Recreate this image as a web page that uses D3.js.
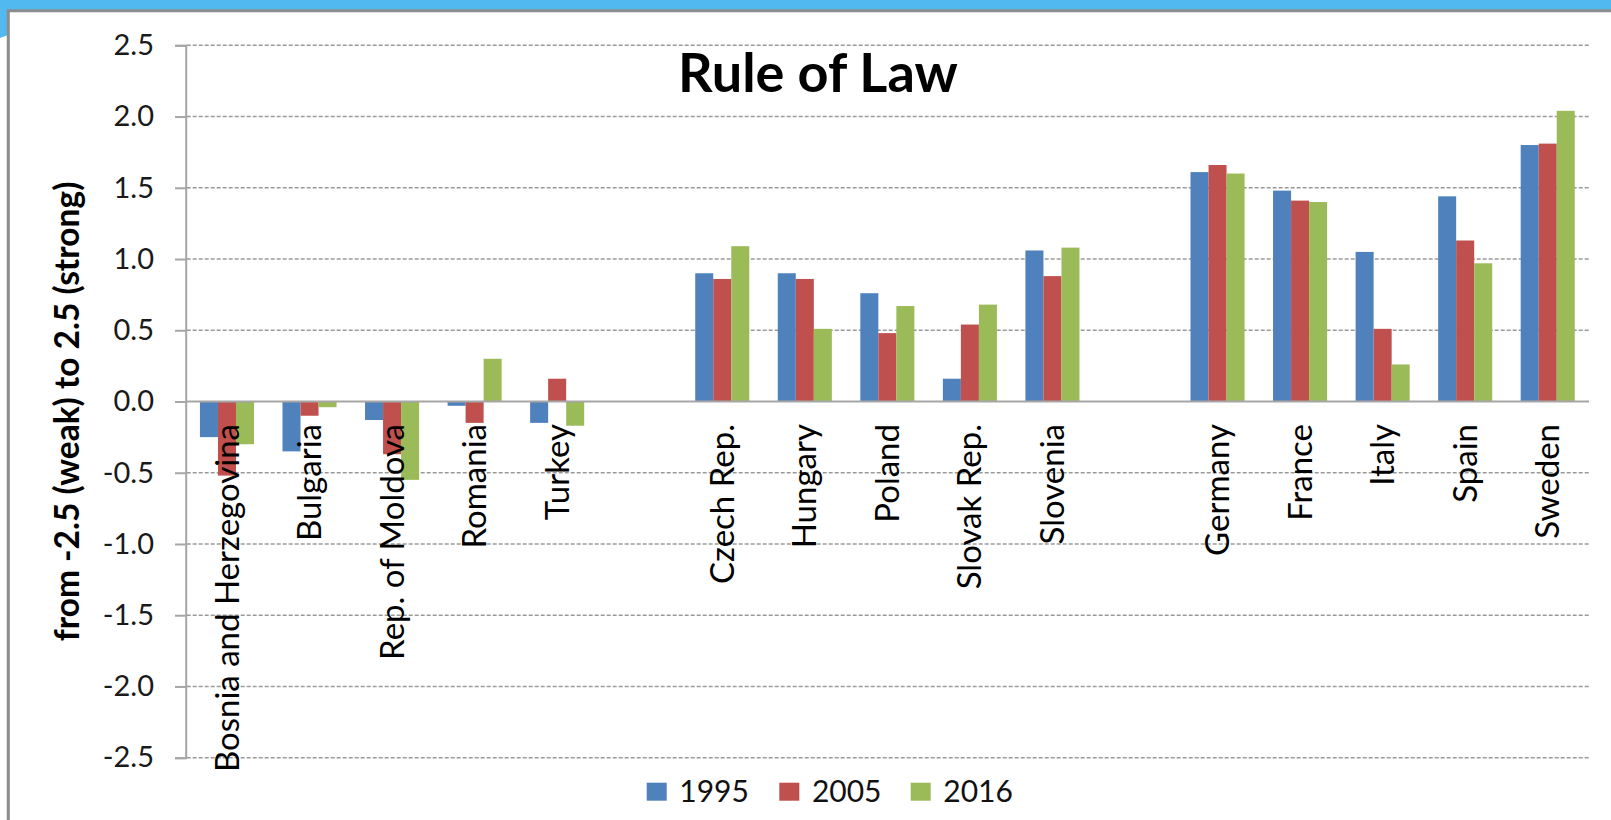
<!DOCTYPE html>
<html>
<head>
<meta charset="utf-8">
<script src="https://cdn.jsdelivr.net/npm/d3@7"></script>
<style>
  html, body { margin: 0; padding: 0; background: #fff; }
  svg { display: block; }
</style>
</head>
<body>
<div id="chart"></div>
<script>
// values
const categories = ["Bosnia and Herzegovina", "Bulgaria", "Rep. of Moldova", "Romania", "Turkey",
  "Czech Rep.", "Hungary", "Poland", "Slovak Rep.", "Slovenia",
  "Germany", "France", "Italy", "Spain", "Sweden"];
const gapAfter = ["Turkey", "Slovenia"]; // empty slot after these
const seriesNames = ["1995", "2005", "2016"];
const v1995 = [-0.25, -0.35, -0.13, -0.03, -0.15, 0.90, 0.90, 0.76, 0.16, 1.06, 1.61, 1.48, 1.05, 1.44, 1.80];
const v2005 = [-0.52, -0.10, -0.37, -0.15, 0.16, 0.86, 0.86, 0.48, 0.54, 0.88, 1.66, 1.41, 0.51, 1.13, 1.81];
const v2016 = [-0.30, -0.04, -0.55, 0.30, -0.17, 1.09, 0.51, 0.67, 0.68, 1.08, 1.60, 1.40, 0.26, 0.97, 2.04];
const yTicks = [-2.5, -2.0, -1.5, -1.0, -0.5, 0.0, 0.5, 1.0, 1.5, 2.0, 2.5];

const colors = ["#4F81BD", "#C0504D", "#9BBB59"];
const width = 1611, height = 820;
const font = "Lato, 'Open Sans', sans-serif";

const svg = d3.select("#chart")
  .append("svg")
  .attr("width", width)
  .attr("height", height);

// frame: blue strip on top and grey border
svg.append("rect").attr("x", 0).attr("y", 0).attr("width", width).attr("height", 10).attr("fill", "#52B9F0");
svg.append("path").attr("d", "M0,9 L8,9 L8,35 L0,38 Z").attr("fill", "#52B9F0");
svg.append("line").attr("x1", 7).attr("x2", width).attr("y1", 10.8).attr("y2", 10.8)
  .attr("stroke", "#8C8C8C").attr("stroke-width", 3);
svg.append("line").attr("x1", 8.3).attr("x2", 8.3).attr("y1", 9.5).attr("y2", height)
  .attr("stroke", "#8C8C8C").attr("stroke-width", 3);

// slots: every country plus empty ones between the groups
const slots = [];
categories.forEach((c) => {
  slots.push(c);
  if (gapAfter.includes(c)) slots.push("gap" + c);
});

const x0 = d3.scaleBand().domain(slots).range([185.7, 1589]).paddingInner(0).paddingOuter(0);
const x1 = d3.scaleBand().domain(seriesNames).range([0, x0.bandwidth()]).paddingOuter(0.79);
const y = d3.scaleLinear().domain([-2.5, 2.5]).range([757.7, 45.3]);

const data = categories.map((c, i) => ({
  name: c,
  values: [v1995[i], v2005[i], v2016[i]]
}));

// gridlines + y axis
const yAxis = d3.axisLeft(y)
  .tickValues(yTicks)
  .tickFormat(d3.format(".1f"))
  .tickSize(10.7)
  .tickPadding(21);

const gy = svg.append("g")
  .attr("transform", "translate(185.7,0)")
  .call(yAxis);
gy.select(".domain").attr("stroke", "#A6A6A6").attr("stroke-width", 2);
gy.selectAll(".tick line").attr("stroke", "#A6A6A6").attr("stroke-width", 2);
gy.selectAll(".tick text")
  .attr("fill", "#1a1a1a")
  .style("font-family", font)
  .style("font-size", "29px")
  .text((d) => (d < 0 ? "-" : "") + d3.format(".1f")(Math.abs(d)));

svg.append("g")
  .selectAll("line")
  .data(yTicks.filter((d) => d !== 0))
  .join("line")
  .attr("x1", 186.7)
  .attr("x2", 1589)
  .attr("y1", (d) => y(d))
  .attr("y2", (d) => y(d))
  .attr("stroke", "#9A9A9A")
  .attr("stroke-width", 1.5)
  .attr("stroke-dasharray", "4,2");

// bars
const groups = svg.append("g")
  .selectAll("g")
  .data(data)
  .join("g")
  .attr("transform", (d) => `translate(${x0(d.name)},0)`);

groups.selectAll("rect")
  .data((d) => d.values.map((v, i) => ({ key: seriesNames[i], value: v, i })))
  .join("rect")
  .attr("x", (d) => x1(d.key))
  .attr("width", x1.bandwidth())
  .attr("y", (d) => y(Math.max(0, d.value)))
  .attr("height", (d) => Math.abs(y(d.value) - y(0)))
  .attr("fill", (d) => colors[d.i]);

// zero line
svg.append("line")
  .attr("x1", 185.7).attr("x2", 1589)
  .attr("y1", y(0)).attr("y2", y(0))
  .attr("stroke", "#A6A6A6")
  .attr("stroke-width", 2);

// category labels, vertical
svg.append("g")
  .selectAll("text")
  .data(categories)
  .join("text")
  .attr("transform", (d) => `translate(${x0(d) + x0.bandwidth() / 2},424) rotate(-90)`)
  .attr("text-anchor", "end")
  .attr("dy", "0.35em")
  .attr("fill", "#000")
  .style("font-family", font)
  .style("font-size", "33px")
  .text((d) => d);

// title
svg.append("text")
  .attr("x", 818)
  .attr("y", 92)
  .attr("text-anchor", "middle")
  .style("font-family", font)
  .style("font-size", "54px")
  .style("font-weight", "bold")
  .text("Rule of Law");

// y axis title
svg.append("text")
  .attr("transform", "translate(67,411.5) rotate(-90)")
  .attr("text-anchor", "middle")
  .attr("dy", "0.35em")
  .style("font-family", font)
  .style("font-size", "33.5px")
  .style("font-weight", "bold")
  .text("from -2.5 (weak) to 2.5 (strong)");

// legend
const legendX = [646.7, 779.3, 910.7];
const legend = svg.append("g")
  .selectAll("g")
  .data(seriesNames)
  .join("g")
  .attr("transform", (d, i) => `translate(${legendX[i]},782.7)`);
legend.append("rect")
  .attr("width", 20)
  .attr("height", 18)
  .attr("fill", (d, i) => colors[i]);
legend.append("text")
  .attr("x", 32.6)
  .attr("y", 19)
  .attr("fill", "#111")
  .style("font-family", font)
  .style("font-size", "30px")
  .text((d) => d);
</script>
</body>
</html>
